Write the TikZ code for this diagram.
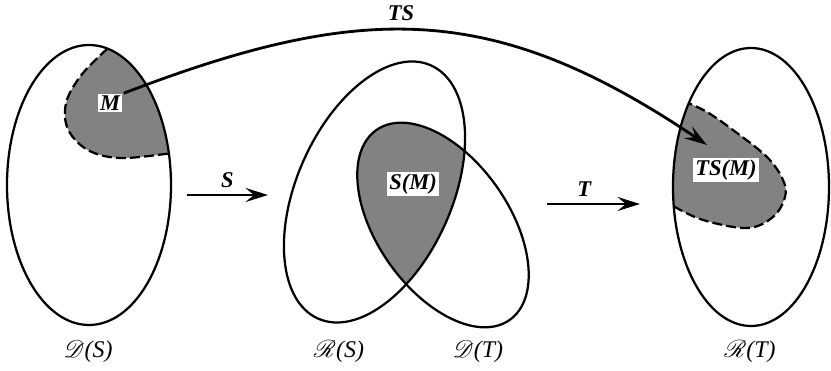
\documentclass[tikz,border=0pt]{standalone}
\usepackage{fontspec}
\setmainfont{Liberation Serif}
\usepackage{mathrsfs}
\usepackage{tikz}
\usetikzlibrary{arrows.meta, calc}
\definecolor{DotGray}{RGB}{130,130,130}

\begin{document}
\begin{tikzpicture}[
          set/.style={line width=1.6pt},
          part/.style={fill=DotGray},
          rim/.style={line width=1.6pt, dash pattern=on 7pt off 3pt},
          tag/.style={fill=white, inner sep=1.5pt,
                      font=\fontsize{16}{18}\selectfont\bfseries\itshape},
          lbl/.style={font=\fontsize{16}{18}\selectfont\bfseries\itshape},
          setname/.style={font=\fontsize{17}{19}\selectfont},
          arr/.style={-{Stealth[length=16pt, width=10pt, inset=6pt]}, line width=2pt}
        ]
        \useasboundingbox (0,0) rectangle (20.775,9.275);

        % centres of the sets
        \coordinate (ds) at (2.225,4.65);
        \coordinate (rs) at (9.3625,4.475);
        \coordinate (dt) at (11.075,3.65);
        \coordinate (rt) at (18.775,4.6);

        % M inside D(S)
        \coordinate (mTop) at ($(ds)+(77:2.05 and 3.5)$);
        \coordinate (mLow) at ($(ds)+(13:2.05 and 3.5)$);
        \fill[part] (mLow) arc[start angle=13, end angle=77, x radius=2.05, y radius=3.5]
              -- plot[smooth, tension=0.6] coordinates {(mTop) (2.075,7.45) (1.7,6.85)
                 (1.625,6.35) (1.75,5.95) (2.075,5.6) (2.5,5.4) (3,5.325) (3.5,5.35) (mLow)}
              -- cycle;
        \draw[rim] plot[smooth, tension=0.6] coordinates {(mTop) (2.075,7.45) (1.7,6.85)
                 (1.625,6.35) (1.75,5.95) (2.075,5.6) (2.5,5.4) (3,5.325) (3.5,5.35) (mLow)};
        \draw[set] (ds) ellipse[x radius=2.05, y radius=3.5];

        % S(M) = R(S) meets D(T)
        \begin{scope}
          \clip[rotate around={-24:(rs)}] (rs) ellipse[x radius=1.94, y radius=3.465];
          \fill[part, rotate around={35:(dt)}] (dt) ellipse[x radius=1.65, y radius=2.9];
        \end{scope}
        \draw[set, rotate around={-24:(rs)}] (rs) ellipse[x radius=1.94, y radius=3.465];
        \draw[set, rotate around={35:(dt)}] (dt) ellipse[x radius=1.65, y radius=2.9];

        % TS(M) inside R(T)
        \coordinate (tTop) at ($(rt)+(143:1.95 and 3.475)$);
        \coordinate (tLow) at ($(rt)+(188:1.95 and 3.475)$);
        \fill[part] (tTop) arc[start angle=143, end angle=188, x radius=1.95, y radius=3.475]
              -- plot[smooth, tension=0.6] coordinates {(tLow) (17.575,3.775) (18.675,3.575)
                 (19.325,3.85) (19.625,4.35) (19.575,4.775) (19.175,5.35) (18.325,6.025)
                 (17.675,6.475) (tTop)}
              -- cycle;
        \draw[rim] plot[smooth, tension=0.6] coordinates {(tLow) (17.575,3.775) (18.675,3.575)
                 (19.325,3.85) (19.625,4.35) (19.575,4.775) (19.175,5.35) (18.325,6.025)
                 (17.675,6.475) (tTop)};
        \draw[set] (rt) ellipse[x radius=1.95, y radius=3.475];

        \node[tag] (M)   at (2.75,6.7)     {M};
        \node[tag] (SM)  at (10.325,4.675) {S(M)};
        \node[tag] (TSM) at (18.15,5.025)  {TS(M)};

        \node[setname] (DS) at (2.2,0.475)   {$\mathscr{D}$\textit{(S)}};
        \node[setname] (RS) at (8.475,0.475) {$\mathscr{R}$\textit{(S)}};
        \node[setname] (DT) at (11.95,0.475) {$\mathscr{D}$\textit{(T)}};
        \node[setname] (RT) at (18.75,0.475) {$\mathscr{R}$\textit{(T)}};

        % the maps
        \coordinate (sFrom) at (4.675,4.4);
        \coordinate (sTo)   at (6.7,4.4);
        \coordinate (tFrom) at (13.675,4.175);
        \coordinate (tTo)   at (16.0,4.175);
        \coordinate (tsTip) at (17.675,5.65);
        \draw[arr] (sFrom) -- (sTo) node[lbl, midway, above=1pt] {S};
        \draw[arr] (tFrom) -- (tTo) node[lbl, pos=0.4, above=1pt] {T};
        \draw[arr] ([shift={(1pt,0pt)}]M.north east) to[out=21, in=146, looseness=1.12] (tsTip);
        \node[lbl] (TS) at (10.025,8.95) {TS};
      \end{tikzpicture}
\end{document}
